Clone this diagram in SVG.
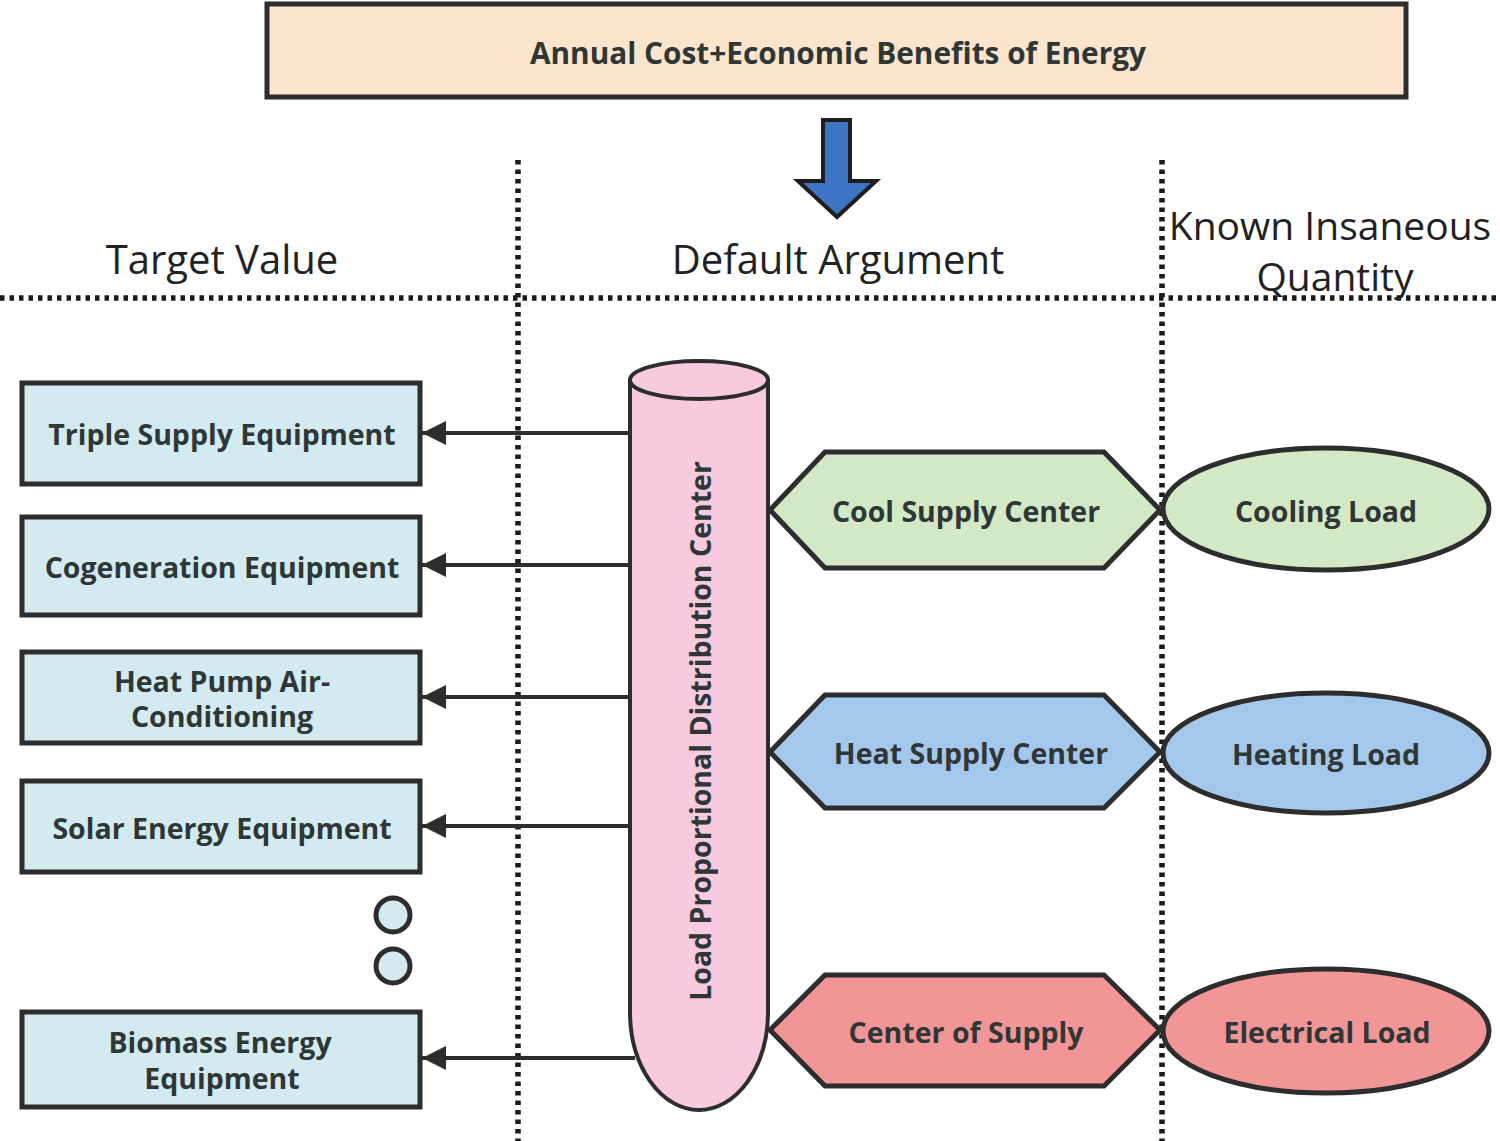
<svg xmlns="http://www.w3.org/2000/svg" width="1500" height="1141" viewBox="0 0 1500 1141">
<defs>
<style>
.t{font-family:"Open Sans","Noto Sans","Liberation Sans",sans-serif;font-weight:700;font-size:28.5px;fill:#2f3636;text-anchor:middle;dominant-baseline:central}
.h{font-family:"Open Sans","Noto Sans","Liberation Sans",sans-serif;font-weight:400;font-size:40px;fill:#222;text-anchor:middle}
.box{fill:#d3eaf1;stroke:#2d2d2d;stroke-width:5}
.dot{stroke:#1a1a1a;stroke-width:5.5;stroke-dasharray:4.5 5;fill:none}
.con{stroke:#2d2d2d;stroke-width:4;fill:none}
.ol{stroke:#2d2d2d;stroke-width:5}
</style>
<marker id="ah" viewBox="0 0 10 10" refX="10" refY="5" markerWidth="7" markerHeight="6" markerUnits="strokeWidth" orient="auto">
<path d="M0,0 L10,5 L0,10 z" fill="#2d2d2d"/>
</marker>
</defs>
<rect width="1500" height="1141" fill="#fff"/>

<g id="guides">
<line class="dot" x1="518" y1="160" x2="518" y2="1141"/>
<line class="dot" x1="1162" y1="160" x2="1162" y2="1141"/>
<line class="dot" x1="0" y1="298" x2="1500" y2="298"/>
</g>

<g id="headings">
<text class="h" x="222" y="274">Target Value</text>
<text class="h" x="838" y="274">Default Argument</text>
<text class="h" x="1330" y="240" style="font-size:39px">Known Insaneous</text>
<text class="h" x="1335" y="291" style="font-size:39px">Quantity</text>
</g>

<g id="title">
<rect x="267" y="4" width="1139" height="93" fill="#fde5cd" class="ol"/>
<text class="t" x="838" y="52" style="font-size:29.8px">Annual Cost+Economic Benefits of Energy</text>
</g>

<g id="down-arrow">
<polygon points="823,120 850,120 850,181 876,181 837,217 798,181 823,181" fill="#3d74c3" stroke="#1e1e1e" stroke-width="4" stroke-linejoin="miter"/>
</g>

<g id="connectors">
<line class="con" x1="630" y1="433" x2="422" y2="433" marker-end="url(#ah)"/>
<line class="con" x1="630" y1="565" x2="422" y2="565" marker-end="url(#ah)"/>
<line class="con" x1="630" y1="697" x2="422" y2="697" marker-end="url(#ah)"/>
<line class="con" x1="630" y1="826" x2="422" y2="826" marker-end="url(#ah)"/>
<line class="con" x1="635" y1="1058" x2="422" y2="1058" marker-end="url(#ah)"/>
</g>

<g id="triple-supply">
<rect class="box" x="22" y="383" width="398" height="101"/>
<text class="t" x="222" y="434">Triple Supply Equipment</text>
</g>
<g id="cogeneration">
<rect class="box" x="22" y="517" width="398" height="98"/>
<text class="t" x="222" y="567">Cogeneration Equipment</text>
</g>
<g id="heat-pump">
<rect class="box" x="22" y="652" width="398" height="91"/>
<text class="t" x="222" y="681">Heat Pump Air-</text>
<text class="t" x="222" y="716">Conditioning</text>
</g>
<g id="solar">
<rect class="box" x="22" y="781" width="398" height="91"/>
<text class="t" x="222" y="828">Solar Energy Equipment</text>
</g>
<g id="ellipsis">
<circle cx="393" cy="915" r="17" fill="#d3eaf1" class="ol"/>
<circle cx="393" cy="966" r="17" fill="#d3eaf1" class="ol"/>
</g>
<g id="biomass">
<rect class="box" x="22" y="1012" width="398" height="95"/>
<text class="t" x="220" y="1042">Biomass Energy</text>
<text class="t" x="222" y="1078">Equipment</text>
</g>

<g id="load-distribution-center">
<path d="M630,380 L630,1012 A69,98 0 0 0 768,1012 L768,380 Z" fill="#f7cadf" stroke="#2d2d2d" stroke-width="4"/>
<ellipse cx="699" cy="380" rx="69" ry="19" fill="#f7cadf" stroke="#2d2d2d" stroke-width="4"/>
<text class="t" x="0" y="0" transform="translate(700,731) rotate(-90)">Load Proportional Distribution Center</text>
</g>

<g id="cool-supply-center">
<polygon points="770,510 825,452 1104,452 1160,510 1104,568 825,568" fill="#d3e8c5" class="ol"/>
<text class="t" x="966" y="511">Cool Supply Center</text>
</g>
<g id="heat-supply-center">
<polygon points="770,752 825,695 1104,695 1160,752 1104,808 825,808" fill="#a4c8ec" class="ol"/>
<text class="t" x="971" y="753">Heat Supply Center</text>
</g>
<g id="center-of-supply">
<polygon points="770,1030 825,975 1104,975 1160,1030 1104,1086 825,1086" fill="#f29596" class="ol"/>
<text class="t" x="966" y="1032">Center of Supply</text>
</g>

<g id="cooling-load">
<ellipse cx="1326" cy="509" rx="163" ry="61" fill="#d3e8c5" class="ol"/>
<text class="t" x="1326" y="511">Cooling Load</text>
</g>
<g id="heating-load">
<ellipse cx="1326" cy="753" rx="163" ry="60" fill="#a4c8ec" class="ol"/>
<text class="t" x="1326" y="754">Heating Load</text>
</g>
<g id="electrical-load">
<ellipse cx="1326" cy="1031" rx="163" ry="62" fill="#f29596" class="ol"/>
<text class="t" x="1327" y="1032">Electrical Load</text>
</g>
</svg>
